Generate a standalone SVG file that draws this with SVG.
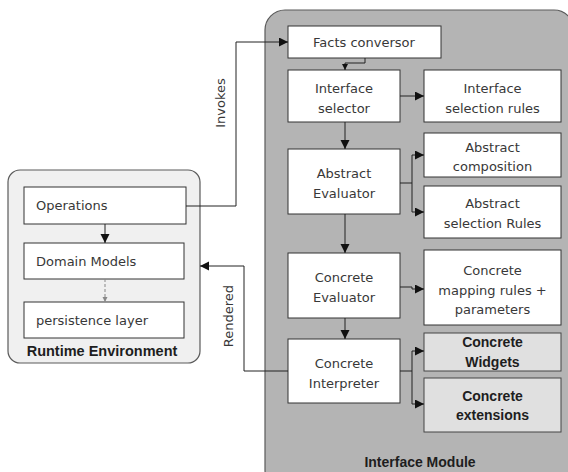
<svg xmlns="http://www.w3.org/2000/svg" width="568" height="472" viewBox="0 0 568 472">
<style>
.cont{stroke:#5a5a5a;stroke-width:1.2}
.box{fill:#fff;stroke:#333;stroke-width:1}
.gbox{fill:#e0e0e0;stroke:#444;stroke-width:1}
.t{font-family:"DejaVu Sans",Verdana,sans-serif;font-size:13px;fill:#383838;text-anchor:middle}
.tl{font-family:"DejaVu Sans",Verdana,sans-serif;font-size:13px;fill:#383838}
.b{font-family:"Liberation Sans",Arial,sans-serif;font-size:14px;font-weight:bold;fill:#1e1e1e;text-anchor:middle}
.c{fill:none;stroke:#222;stroke-width:1}
.d{fill:none;stroke:#888;stroke-width:1;stroke-dasharray:3,2}
</style>
<defs>
<marker id="ah" markerUnits="userSpaceOnUse" markerWidth="10" markerHeight="10" refX="9" refY="4.5" orient="auto"><path d="M0,0 L9,4.5 L0,9 z" fill="#111"/></marker>
<marker id="ahs" markerUnits="userSpaceOnUse" markerWidth="7" markerHeight="7" refX="6" refY="3" orient="auto"><path d="M0,0 L6,3 L0,6 z" fill="#111"/></marker>
<marker id="ahd" markerUnits="userSpaceOnUse" markerWidth="6" markerHeight="6" refX="5" refY="2.5" orient="auto"><path d="M0,0 L5,2.5 L0,5 z" fill="#888"/></marker>
</defs>

<g id="runtime-environment">
<rect class="cont" x="8" y="170" width="192" height="193" rx="12" fill="#f0f0f0"/>
<text class="b" x="102" y="356" style="font-size:14.5px">Runtime Environment</text>
</g>
<g id="interface-module">
<rect class="cont" x="265" y="10" width="309" height="480" rx="20" fill="#b4b4b4"/>
<text class="b" x="420" y="467">Interface Module</text>
</g>

<g id="operations"><rect class="box" x="24" y="187" width="162" height="37"/><text class="tl" x="36" y="210">Operations</text></g>
<g id="domain-models"><rect class="box" x="24" y="243" width="160" height="36"/><text class="tl" x="36" y="266">Domain Models</text></g>
<g id="persistence-layer"><rect class="box" x="24" y="302" width="160" height="36"/><text class="tl" x="36" y="325">persistence layer</text></g>

<g id="facts-conversor"><rect class="box" x="288" y="26" width="153" height="32"/><text class="t" x="364" y="47">Facts conversor</text></g>
<g id="interface-selector"><rect class="box" x="288" y="70" width="112" height="52"/><text class="t" x="344" y="93">Interface</text><text class="t" x="344" y="113">selector</text></g>
<g id="interface-selection-rules"><rect class="box" x="424" y="70" width="137" height="52"/><text class="t" x="492.5" y="93">Interface</text><text class="t" x="492.5" y="113">selection rules</text></g>
<g id="abstract-evaluator"><rect class="box" x="288" y="149" width="112" height="65"/><text class="t" x="344" y="178">Abstract</text><text class="t" x="344" y="198">Evaluator</text></g>
<g id="abstract-composition"><rect class="box" x="424" y="133" width="137" height="44"/><text class="t" x="492.5" y="151.5">Abstract</text><text class="t" x="492.5" y="171">composition</text></g>
<g id="abstract-selection-rules"><rect class="box" x="424" y="186" width="137" height="52"/><text class="t" x="492.5" y="208">Abstract</text><text class="t" x="492.5" y="228">selection Rules</text></g>
<g id="concrete-evaluator"><rect class="box" x="288" y="253" width="112" height="65"/><text class="t" x="344" y="282">Concrete</text><text class="t" x="344" y="302">Evaluator</text></g>
<g id="concrete-mapping-rules"><rect class="box" x="424" y="250" width="137" height="75"/><text class="t" x="492.5" y="275">Concrete</text><text class="t" x="492.5" y="295">mapping rules +</text><text class="t" x="492.5" y="314">parameters</text></g>
<g id="concrete-interpreter"><rect class="box" x="288" y="339" width="112" height="64"/><text class="t" x="344" y="367.5">Concrete</text><text class="t" x="344" y="387.5">Interpreter</text></g>
<g id="concrete-widgets"><rect class="gbox" x="424" y="333" width="137" height="38"/><text class="b" x="492.5" y="347">Concrete</text><text class="b" x="492.5" y="366.5">Widgets</text></g>
<g id="concrete-extensions"><rect class="gbox" x="424" y="378" width="137" height="54"/><text class="b" x="492.5" y="401">Concrete</text><text class="b" x="492.5" y="420">extensions</text></g>

<g id="connectors">
<path class="c" d="M186,206 H236 V42 H288" marker-end="url(#ah)"/>
<path class="c" d="M365,58 V63 H345 V70" marker-end="url(#ahs)"/>
<path class="c" d="M400,96 H424" marker-end="url(#ah)"/>
<path class="c" d="M345,122 V149" marker-end="url(#ah)"/>
<path class="c" d="M400,183 H412 V155 H424" marker-end="url(#ah)"/>
<path class="c" d="M412,183 V212 H424" marker-end="url(#ah)"/>
<path class="c" d="M345,214 V253" marker-end="url(#ah)"/>
<path class="c" d="M400,287 H412 V289 H424" marker-end="url(#ah)"/>
<path class="c" d="M345,318 V339" marker-end="url(#ah)"/>
<path class="c" d="M400,371 H412 V351 H424" marker-end="url(#ah)"/>
<path class="c" d="M412,371 V404 H424" marker-end="url(#ah)"/>
<path class="c" d="M288,371 H244 V266 H200" marker-end="url(#ah)"/>
<path class="c" d="M105,224 V243" marker-end="url(#ah)"/>
<path class="d" d="M105,279 V302" marker-end="url(#ahd)"/>
<text class="t" transform="translate(225,103) rotate(-90)">Invokes</text>
<text class="t" transform="translate(233,316) rotate(-90)">Rendered</text>
</g>
</svg>
